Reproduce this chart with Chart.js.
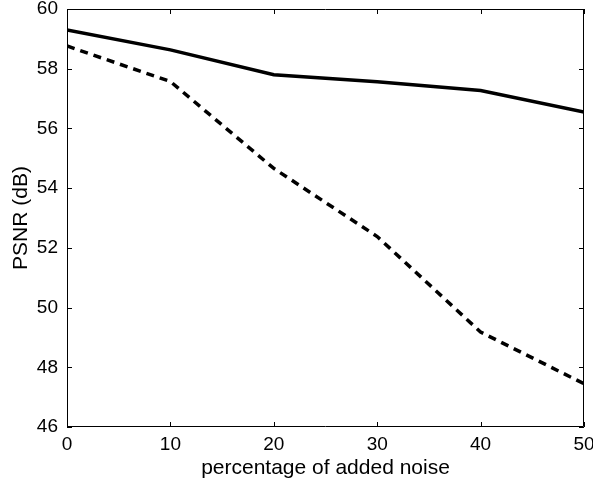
<!DOCTYPE html>
<html>
<head>
<meta charset="utf-8">
<script src="https://cdn.jsdelivr.net/npm/chart.js@4/dist/chart.umd.min.js"></script>
<style>
  body { margin: 0; background: #fff; }
  canvas { display: block; }
</style>
</head>
<body>
<canvas id="psnrChart" width="593" height="492"></canvas>
<script>
// percentage of added noise
var noiseLevels = [0, 10, 20, 30, 40, 50];
// PSNR values
var psnrSolid = [59.30, 58.63, 57.80, 57.56, 57.27, 56.55];
var psnrDashed = [58.76, 57.57, 54.66, 52.38, 49.18, 47.45];
var xTicks = [0, 10, 20, 30, 40, 50];
var yTicks = [46, 48, 50, 52, 54, 56, 58, 60];

function toPoints(values) {
    return noiseLevels.map(function (x, i) { return { x: x, y: values[i] }; });
}

// matlab style box with inward ticks
var boxPlugin = {
    id: 'box',
    afterDraw: function (chart) {
        var ctx = chart.ctx;
        var a = chart.chartArea;
        var xs = chart.scales.x, ys = chart.scales.y;
        var len = 5;
        ctx.save();
        ctx.strokeStyle = '#000';
        ctx.lineWidth = 1;
        ctx.beginPath();
        ctx.rect(a.left + 0.5, a.top + 0.5, a.right - a.left - 1, a.bottom - a.top - 1);
        xTicks.forEach(function (v) {
            var px = Math.round(xs.getPixelForValue(v)) + 0.5;
            ctx.moveTo(px, a.bottom);
            ctx.lineTo(px, a.bottom - len);
            ctx.moveTo(px, a.top);
            ctx.lineTo(px, a.top + len);
        });
        yTicks.forEach(function (v) {
            var py = Math.round(ys.getPixelForValue(v)) + 0.5;
            ctx.moveTo(a.left, py);
            ctx.lineTo(a.left + len, py);
            ctx.moveTo(a.right, py);
            ctx.lineTo(a.right - len, py);
        });
        ctx.stroke();
        ctx.restore();
    }
};

var ctx = document.getElementById('psnrChart');
var myChart = new Chart(ctx, {
    type: 'line',
    data: {
        datasets: [{
            data: toPoints(psnrSolid),
            borderColor: '#000',
            borderWidth: 3.5,
            pointRadius: 0,
            tension: 0
        }, {
            data: toPoints(psnrDashed),
            borderColor: '#000',
            borderWidth: 3.5,
            borderDash: [8, 6],
            pointRadius: 0,
            tension: 0
        }]
    },
    options: {
        responsive: false,
        animation: false,
        layout: {
            padding: { top: 9, right: 9, left: 0, bottom: 0 }
        },
        plugins: {
            legend: { display: false },
            tooltip: { enabled: false }
        },
        scales: {
            x: {
                type: 'linear',
                min: 0,
                max: 50,
                afterBuildTicks: function (scale) {
                    scale.ticks = xTicks.map(function (v) { return { value: v }; });
                },
                afterFit: function (scale) {
                    scale.height = 65;
                    scale.paddingLeft = 0;
                    scale.paddingRight = 0;
                },
                grid: { display: false, drawTicks: false },
                border: { display: false },
                ticks: {
                    color: '#000',
                    padding: 6,
                    maxRotation: 0,
                    font: { family: 'Liberation Sans', size: 19 }
                },
                title: {
                    display: true,
                    text: 'percentage of added noise',
                    color: '#000',
                    padding: { top: 0, bottom: 11 },
                    font: { family: 'Liberation Sans', size: 21 }
                }
            },
            y: {
                min: 46,
                max: 60,
                afterBuildTicks: function (scale) {
                    scale.ticks = yTicks.map(function (v) { return { value: v }; });
                },
                afterFit: function (scale) {
                    scale.width = 67;
                    scale.paddingTop = 0;
                    scale.paddingBottom = 0;
                },
                grid: { display: false, drawTicks: false },
                border: { display: false },
                ticks: {
                    color: '#000',
                    padding: 9,
                    font: { family: 'Liberation Sans', size: 19 }
                },
                title: {
                    display: true,
                    text: 'PSNR (dB)',
                    color: '#000',
                    padding: { top: 9, bottom: 0 },
                    font: { family: 'Liberation Sans', size: 21 }
                }
            }
        }
    },
    plugins: [boxPlugin]
});
</script>
</body>
</html>
